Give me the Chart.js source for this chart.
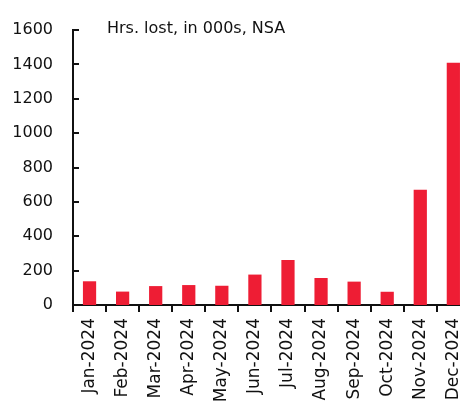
<!DOCTYPE html>
<html>
<head>
<meta charset="utf-8">
<script src="https://cdn.jsdelivr.net/npm/chart.js@4/dist/chart.umd.min.js"></script>
<style>
  html, body { margin: 0; padding: 0; background: #fff; overflow: hidden; }
  #wrap { width: 480px; height: 402px; }
</style>
</head>
<body>
<div id="wrap"><canvas id="chart" width="480" height="402"></canvas></div>
<script>
const months = ["Jan-2024", "Feb-2024", "Mar-2024", "Apr-2024", "May-2024", "Jun-2024",
  "Jul-2024", "Aug-2024", "Sep-2024", "Oct-2024", "Nov-2024", "Dec-2024"];
const hoursLost = [138, 78, 110, 116, 112, 177, 262, 157, 136, 77, 670, 1410];
const yTicks = [0, 200, 400, 600, 800, 1000, 1200, 1400, 1600];
const noteText = "Hrs. lost, in 000s, NSA";

const FONT = "'DejaVu Sans', sans-serif";
const INK = "#111111";

// y ticks point inward in the reference, so draw them by hand
const innerTicks = {
  id: "inner-ticks",
  afterDraw(chart) {
    const { ctx, chartArea } = chart;
    const y = chart.scales.y;
    ctx.save();
    ctx.strokeStyle = INK;
    ctx.lineWidth = 2;
    yTicks.forEach((v) => {
      const py = Math.round(y.getPixelForValue(v));
      ctx.beginPath();
      ctx.moveTo(chartArea.left, py);
      ctx.lineTo(chartArea.left + 6, py);
      ctx.stroke();
    });
    ctx.font = "16px " + FONT;
    ctx.fillStyle = INK;
    ctx.textBaseline = "middle";
    ctx.textAlign = "left";
    ctx.fillText(noteText, chartArea.left + 34, y.getPixelForValue(1600) - 1);
    ctx.restore();
  },
};

new Chart(document.getElementById("chart"), {
  type: "bar",
  data: {
    labels: months,
    datasets: [{
      data: hoursLost,
      backgroundColor: "#EE1D34",
      barPercentage: 0.4,
      categoryPercentage: 1,
    }],
  },
  options: {
    responsive: false,
    animation: false,
    layout: { padding: { top: 30, right: 6, left: 0, bottom: 0 } },
    plugins: {
      legend: { display: false },
      tooltip: { enabled: false },
    },
    scales: {
      x: {
        grid: { display: true, drawOnChartArea: false, drawTicks: true, tickLength: 7, color: INK, lineWidth: 2 },
        border: { display: true, color: INK, width: 2 },
        ticks: {
          color: INK,
          font: { family: FONT, size: 17 },
          minRotation: 90,
          maxRotation: 90,
          padding: 6,
          autoSkip: false,
        },
        afterFit(scale) { scale.height = 97; },
      },
      y: {
        min: 0,
        max: 1600,
        afterBuildTicks(scale) { scale.ticks = yTicks.map((v) => ({ value: v })); },
        grid: { display: false, drawTicks: false },
        border: { display: true, color: INK, width: 2 },
        ticks: {
          color: INK,
          font: { family: FONT, size: 16 },
          padding: 20,
          callback: (v) => String(v),
        },
        afterFit(scale) { scale.width = 73; },
      },
    },
  },
  plugins: [innerTicks],
});
</script>
</body>
</html>
